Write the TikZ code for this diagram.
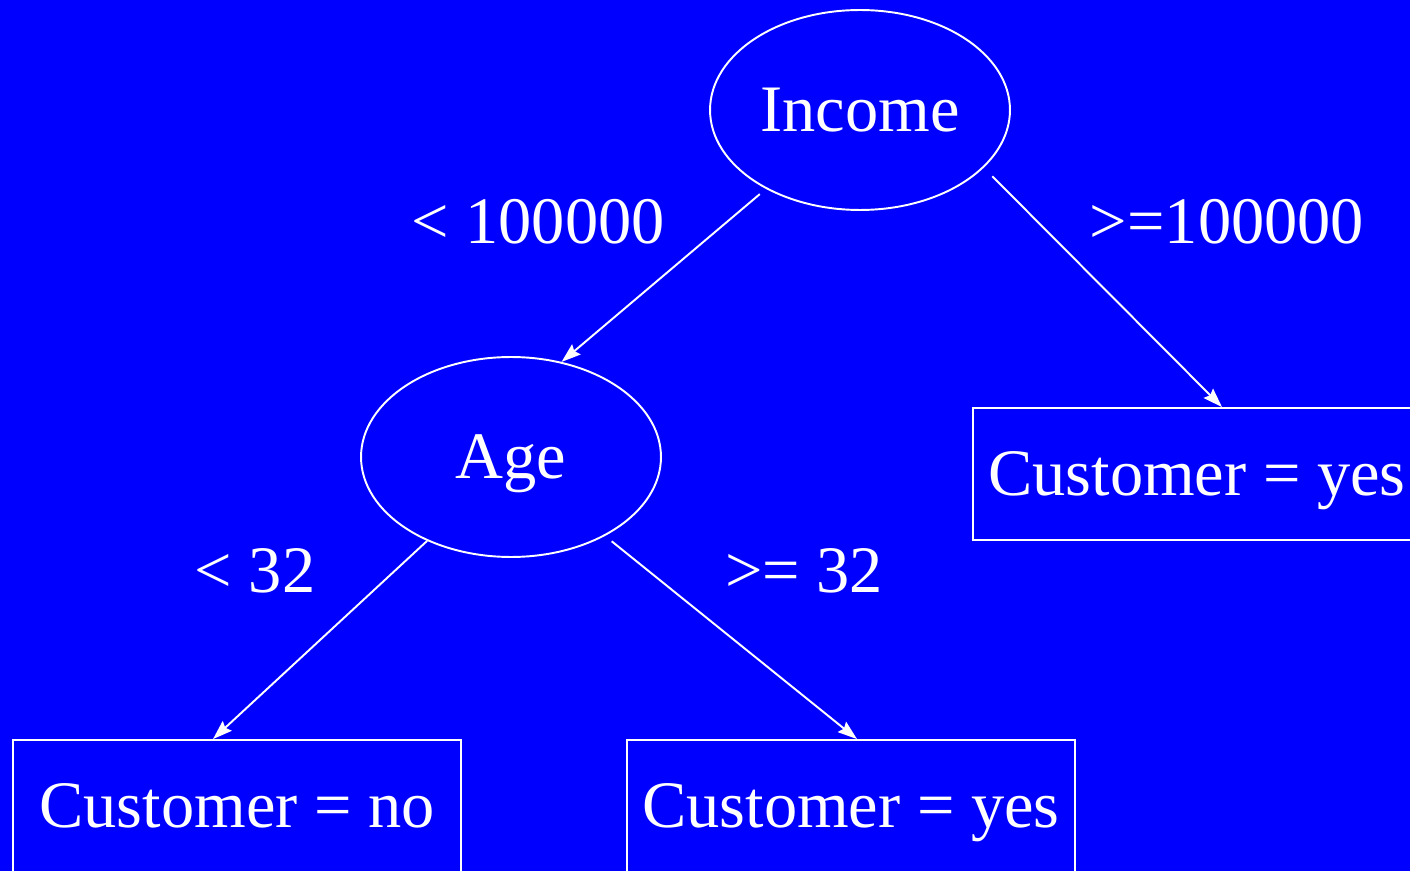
\documentclass[tikz,border=0pt]{standalone}
\usepackage{fontspec}
\setmainfont{Liberation Serif}
\usetikzlibrary{shapes.geometric,arrows.meta}

\begin{document}
\begin{tikzpicture}[x=0.02cm,y=-0.02cm,
test/.style={draw=white,ellipse,line width=1.1pt,minimum width=6cm,minimum height=4cm,inner sep=0pt,text=white,text height=25pt,text depth=0pt,font=\fontsize{37.8}{45}\selectfont},
leaf/.style={draw=white,rectangle,line width=1.1pt,minimum width=8.96cm,minimum height=2.64cm,inner sep=0pt,text=white,text height=25pt,text depth=0pt,font=\fontsize{37.8}{45}\selectfont},
cond/.style={text=white,inner sep=0pt,text height=25pt,text depth=0pt,font=\fontsize{37.8}{45}\selectfont},
branch/.style={draw=white,line width=1.1pt,-{Stealth[length=11pt,width=7.5pt,inset=1.5pt]}}]
\fill [blue] (0,0) rectangle (1410,871);
\useasboundingbox (0,0) rectangle (1410,871);
\clip (0,0) rectangle (1410,871);
% tree nodes
\node (income) [test] at (860,110) {Income};
\node (age) [test] at (511,457) {Age};
\node (yesright) [leaf] at (1197,474) {Customer = yes};
\node (noleft) [leaf] at (237,806) {Customer = no};
\node (yesmid) [leaf] at (851,806) {Customer = yes};
% branch labels
\node (lowinc) [cond] at (538,222) {< 100000};
\node (highinc) [cond] at (1227,222) {>=100000};
\node (young) [cond] at (255,571) {< 32};
\node (old) [cond] at (804,571) {>= 32};
% branches
\draw [branch,shorten <=0.16cm] (income.220) -- (age.62);
\draw [branch,shorten <=0.24cm] (income.-25) -- ([xshift=0.5cm]yesright.north);
\draw [branch] (age.225) -- ([xshift=-0.48cm]noleft.north);
\draw [branch,shorten <=0.17cm] (age.-40) -- ([xshift=0.12cm]yesmid.north);
\end{tikzpicture}
\end{document}
